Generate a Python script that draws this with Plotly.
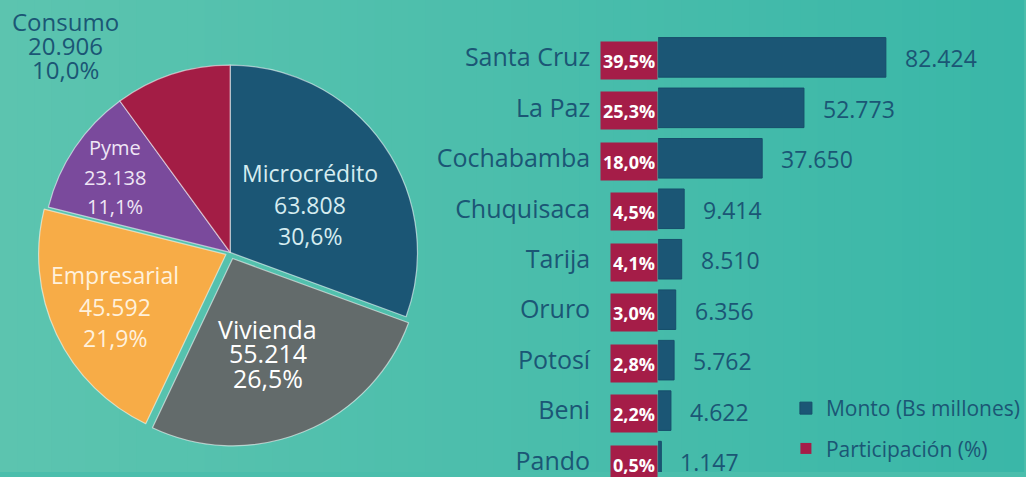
import plotly.graph_objects as go

# --- data -------------------------------------------------------------
pie_labels = ["Microcrédito", "Vivienda", "Empresarial", "Pyme", "Consumo"]
pie_values = [63808, 55214, 45592, 23138, 20906]
pie_colors = ["#1b5675", "#636b6b", "#f7ac47", "#7a4a9c", "#a31d45"]
pie_pull = [0, 0.035, 0.025, 0, 0]

deptos = ["Santa Cruz", "La Paz", "Cochabamba", "Chuquisaca", "Tarija",
          "Oruro", "Potosí", "Beni", "Pando"]
monto = [82424, 52773, 37650, 9414, 8510, 6356, 5762, 4622, 1147]
participacion = ["39,5%", "25,3%", "18,0%", "4,5%", "4,1%", "3,0%", "2,8%", "2,2%", "0,5%"]

W, H = 1026, 477
DARK = "#1b5675"
RED = "#a51d48"
FONT = "Open Sans"


def fmt_int(v):
    return f"{v:,}".replace(",", ".")


def fmt_pct(v):
    return f"{v:.1f}%".replace(".", ",")


fig = go.Figure()

# pie
fig.add_trace(go.Pie(
    labels=pie_labels, values=pie_values, sort=False, direction="clockwise",
    rotation=0, pull=pie_pull, textinfo="none", hoverinfo="label+value+percent",
    marker=dict(colors=pie_colors, line=dict(color="rgba(255,255,255,0.55)", width=1.2)),
    domain=dict(x=[0.0332, 0.4172], y=[0.0545, 0.876]),
    showlegend=False,
))

# bars
fig.add_trace(go.Bar(
    y=deptos, x=monto, orientation="h", name="Monto (Bs millones)",
    marker=dict(color=DARK, line=dict(color="#174e6b", width=1)),
    legendgroup="a",
))
fig.add_trace(go.Scatter(
    x=[None], y=[None], mode="markers", name="Participación (%)",
    marker=dict(symbol="square", size=11, color=RED), legendgroup="b",
))

ann = []
# pie labels: (cx, cy of first line, gap, size, color)
total = sum(pie_values)
pie_text_pos = {
    "Microcrédito": (311, 175, 32, 23, "#d5ecf0"),
    "Vivienda": (269, 332, 25, 25, "#ffffff"),
    "Empresarial": (115, 278, 32, 23, "#fff1dc"),
    "Pyme": (115, 149, 30, 20, "#efe6f5"),
    "Consumo": (66, 22, 24, 24, DARK),
}
for lab, val in zip(pie_labels, pie_values):
    cx, cy, gap, size, col = pie_text_pos[lab]
    for k, line in enumerate([lab, fmt_int(val), fmt_pct(100 * val / total)]):
        ann.append(dict(
            x=cx / W, y=1 - (cy + k * gap) / H, xref="paper", yref="paper",
            text=line, showarrow=False, xanchor="center", yanchor="middle",
            font=dict(family=FONT, size=size, color=col),
        ))

# participation badges and value labels
for d, v, p in zip(deptos, monto, participacion):
    ann.append(dict(
        x=0, y=d, xref="x", yref="y", text=f"<b>{p}</b>", showarrow=False,
        xanchor="right", yanchor="middle", yshift=-3, height=33,
        bgcolor=RED, borderpad=2, xshift=0,
        font=dict(family=FONT, size=18, color="white"),
    ))
    ann.append(dict(
        x=v, y=d, xref="x", yref="y", text=fmt_int(v), showarrow=False,
        xanchor="left", yanchor="middle", xshift=17, yshift=-1,
        font=dict(family=FONT, size=23, color=DARK),
    ))

# background gradient
shapes = []
n = 60
c0 = (92, 196, 175)
c1 = (58, 183, 168)
for i in range(n):
    t = i / (n - 1)
    c = tuple(round(a + (b - a) * t) for a, b in zip(c0, c1))
    shapes.append(dict(
        type="rect", xref="paper", yref="paper", x0=i / n, x1=(i + 1) / n + 0.002,
        y0=0, y1=1, line=dict(width=0), fillcolor=f"rgb{c}", layer="below",
    ))

fig.update_layout(
    width=W, height=H, margin=dict(l=0, r=0, t=0, b=0),
    paper_bgcolor="rgb(75,190,172)", plot_bgcolor="rgba(0,0,0,0)",
    font=dict(family=FONT, color=DARK),
    separators=",.",
    bargap=0.216,
    xaxis=dict(domain=[0.644, 0.99], range=[0, 128000], visible=False, fixedrange=True),
    yaxis=dict(
        type="category", categoryorder="array", categoryarray=deptos,
        range=[8.216, -1.137], showgrid=False, showline=False, zeroline=False,
        ticks="", ticklabelstandoff=67, tickfont=dict(family=FONT, size=25, color=DARK),
        fixedrange=True,
    ),
    legend=dict(
        x=0.769, y=0.178, xanchor="left", yanchor="top", bgcolor="rgba(0,0,0,0)",
        font=dict(family=FONT, size=21, color=DARK), tracegroupgap=10,
    ),
    annotations=ann, shapes=shapes,
)

fig.write_html("out.html", config={"displayModeBar": False},
               post_script="document.body.style.margin='0';")
